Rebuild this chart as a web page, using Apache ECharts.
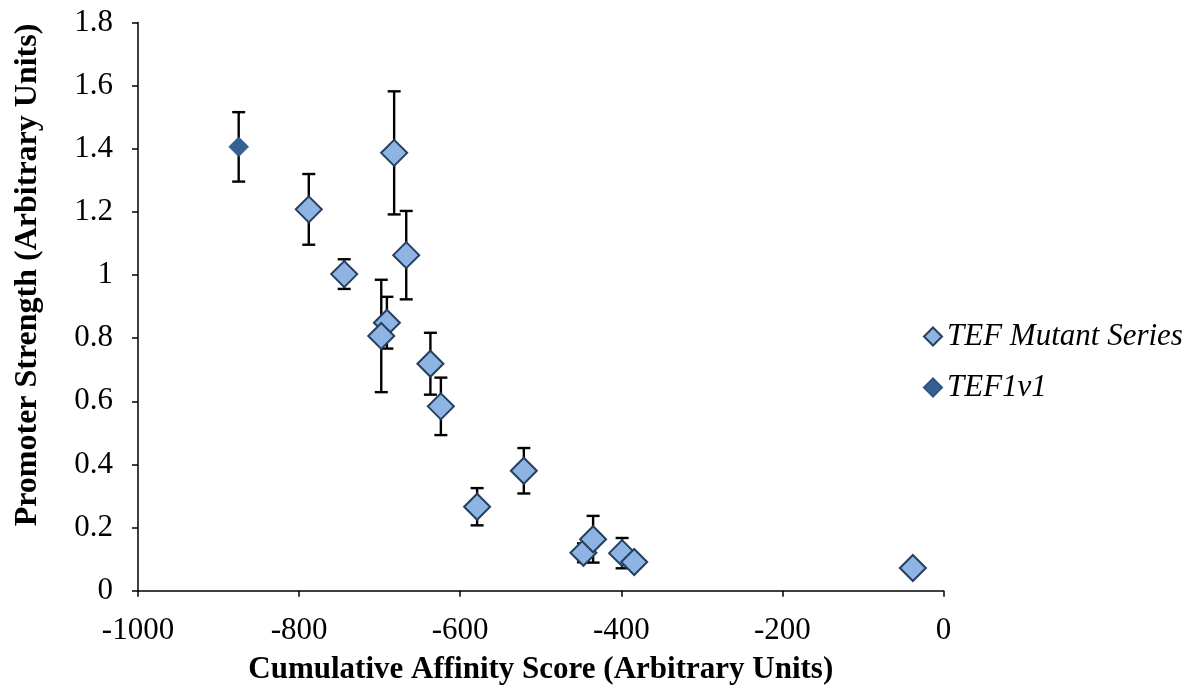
<!DOCTYPE html>
<html>
<head>
<meta charset="utf-8">
<script src="https://cdn.jsdelivr.net/npm/echarts@6/dist/echarts.min.js"></script>
<style>html,body{margin:0;padding:0;background:#fff}#c{width:1198px;height:694px}</style>
</head>
<body>
<div id="c"></div>
<script>
// Data
var mutantX   = [-788, -744, -682, -667, -691, -698, -637, -624, -579, -521, -447, -435, -399, -384, -38];
var mutantY   = [1.208, 1.003, 1.387, 1.063, 0.849, 0.807, 0.719, 0.584, 0.266, 0.380, 0.120, 0.163, 0.119, 0.091, 0.072];
var mutantErr = [0.112, 0.047, 0.195, 0.140, 0.082, 0.178, 0.098, 0.091, 0.059, 0.072, 0.030, 0.074, 0.048, 0.020, 0.010];
var tefX   = [-875];
var tefY   = [1.406];
var tefErr = [0.110];
var seriesNames = ['TEF Mutant Series', 'TEF1v1'];
var xTitle = 'Cumulative Affinity Score (Arbitrary Units)';
var yTitle = 'Promoter Strength (Arbitrary Units)';

function pts(xs, ys) { return xs.map(function (x, i) { return [x, ys[i]]; }); }
function errData(xs, ys, es) { return xs.map(function (x, i) { return [x, ys[i] - es[i], ys[i] + es[i]]; }); }
var allErr = errData(tefX, tefY, tefErr).concat(errData(mutantX, mutantY, mutantErr));

var font = 'Liberation Serif, Times New Roman, serif';
var fs = 31;
var chart = echarts.init(document.getElementById('c'), null, {renderer: 'canvas'});
chart.setOption({
  animation: false,
  backgroundColor: '#fff',
  grid: {left: 138, right: 254.5, top: 22.5, bottom: 103.3},
  graphic: [{
    type: 'text', x: 28, y: 275, rotation: Math.PI / 2,
    style: {text: yTitle, fontFamily: font, fontSize: 32, fontWeight: 'bold', fill: '#000',
      align: 'center', verticalAlign: 'middle'}
  }],
  legend: {
    data: seriesNames,
    orient: 'vertical',
    left: 918, top: 316,
    itemWidth: 18, itemHeight: 18, itemGap: 20,
    textStyle: {fontFamily: font, fontSize: fs, fontStyle: 'italic', color: '#000'}
  },
  xAxis: {
    type: 'value', min: -1000, max: 0, interval: 200,
    name: xTitle,
    nameLocation: 'middle', nameGap: 64,
    nameTextStyle: {fontFamily: font, fontSize: fs, fontWeight: 'bold', color: '#000'},
    axisLine: {show: true, onZero: false, lineStyle: {color: '#000', width: 1.5}},
    axisTick: {show: true, length: 6, lineStyle: {color: '#000', width: 1.5}},
    axisLabel: {fontFamily: font, fontSize: fs, color: '#000', margin: 25,
      formatter: function (v) { return String(v); }},
    splitLine: {show: false}
  },
  yAxis: {
    type: 'value', min: 0, max: 1.8, interval: 0.2,
    axisLine: {show: true, onZero: false, lineStyle: {color: '#000', width: 1.5}},
    axisTick: {show: true, length: 6, lineStyle: {color: '#000', width: 1.5}},
    axisLabel: {fontFamily: font, fontSize: fs, color: '#000', margin: 25,
      formatter: function (v) { return String(Math.round(v * 10) / 10); }},
    splitLine: {show: false}
  },
  series: [
    {
      type: 'custom', name: 'err', z: 1, silent: true,
      data: allErr,
      renderItem: function (params, api) {
        var x = api.value(0);
        var lo = api.coord([x, api.value(1)]);
        var hi = api.coord([x, api.value(2)]);
        var h = 6.5;
        var st = {stroke: '#000', lineWidth: 2.4};
        return {type: 'group', children: [
          {type: 'line', shape: {x1: lo[0], y1: lo[1], x2: hi[0], y2: hi[1]}, style: st},
          {type: 'line', shape: {x1: lo[0] - h, y1: lo[1], x2: lo[0] + h, y2: lo[1]}, style: st},
          {type: 'line', shape: {x1: hi[0] - h, y1: hi[1], x2: hi[0] + h, y2: hi[1]}, style: st}
        ]};
      }
    },
    {
      type: 'scatter', name: seriesNames[0], z: 3,
      symbol: 'diamond', symbolSize: 26,
      itemStyle: {color: '#8DB4E2', borderColor: '#243F60', borderWidth: 2, opacity: 1},
      data: pts(mutantX, mutantY)
    },
    {
      type: 'scatter', name: seriesNames[1], z: 3,
      symbol: 'diamond', symbolSize: 20,
      itemStyle: {color: '#366092', borderColor: '#2E5585', borderWidth: 0.5, opacity: 1},
      data: pts(tefX, tefY)
    }
  ]
});
</script>
</body>
</html>
